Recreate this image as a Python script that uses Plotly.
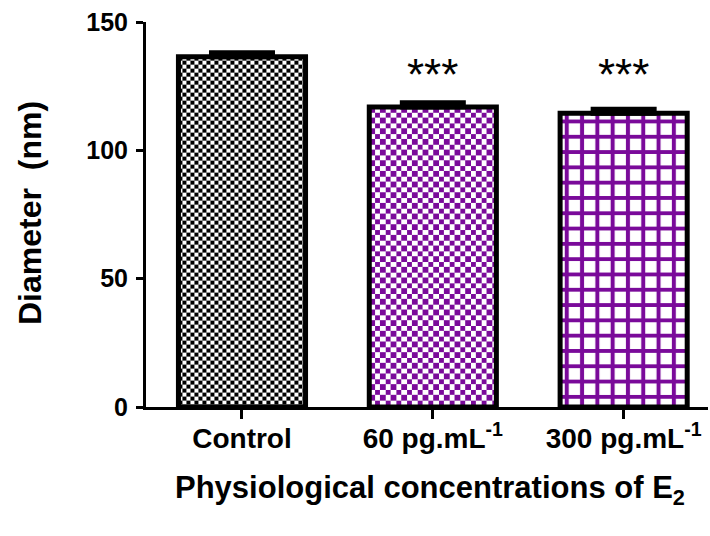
import base64
import plotly.graph_objects as go

# ---- data ----
categories = ["Control", "60 pg.mL<sup>-1</sup>", "300 pg.mL<sup>-1</sup>"]
means = [136.5, 116.9, 114.4]
sems = [1.5, 1.6, 1.6]
significance = ["", "***", "***"]
y_ticks = [0, 50, 100, 150]
sig_y = 129.5

# ---- styling ----
PURPLE = "#7a0a9a"
FONT = "Arial, Liberation Sans, sans-serif"
BAR_W = 0.666
W, H = 710, 536
L, R, T, B = 146, 2, 22, 129
x_range = [-0.503, 2.442]
y_range = [0, 150]
px_x = (W - L - R) / (x_range[1] - x_range[0])
px_y = (H - T - B) / (y_range[1] - y_range[0])


def checker_uri(cell, color, wpx, hpx):
    c2 = 2 * cell
    svg = (
        f"<svg xmlns='http://www.w3.org/2000/svg' width='{wpx:.1f}' height='{hpx:.1f}' "
        f"viewBox='0 0 {wpx:.1f} {hpx:.1f}' shape-rendering='crispEdges'>"
        f"<defs><pattern id='p' width='{c2}' height='{c2}' patternUnits='userSpaceOnUse'>"
        f"<rect width='{c2}' height='{c2}' fill='white'/>"
        f"<rect width='{cell}' height='{cell}' fill='{color}'/>"
        f"<rect x='{cell}' y='{cell}' width='{cell}' height='{cell}' fill='{color}'/>"
        f"</pattern></defs><rect width='100%' height='100%' fill='url(#p)'/></svg>"
    )
    return "data:image/svg+xml;base64," + base64.b64encode(svg.encode()).decode()


# per-bar fill style: checkerboard texture (cell px, colour) or plotly "+" grid
styles = [
    dict(texture=(4.0, "black")),
    dict(texture=(5.33, PURPLE)),
    dict(grid=True),
]

xs = list(range(len(categories)))

fig = go.Figure()
images = []
for i, st in enumerate(styles):
    if st.get("grid"):
        marker = dict(color="white", line=dict(color="black", width=5),
                      pattern=dict(shape="+", fgcolor=PURPLE, bgcolor="white",
                                   size=15.3, solidity=0.454, fillmode="replace"))
    else:
        marker = dict(color="rgba(0,0,0,0)", line=dict(color="black", width=5))
        cell, col = st["texture"]
        uri = checker_uri(cell, col, BAR_W * px_x, means[i] * px_y)
        images.append(dict(source=uri, xref="x", yref="y", x=xs[i] - BAR_W / 2,
                           y=means[i], sizex=BAR_W, sizey=means[i],
                           xanchor="left", yanchor="top", sizing="stretch",
                           layer="below"))
    fig.add_trace(go.Bar(
        x=[xs[i]], y=[means[i]], width=BAR_W, marker=marker,
        error_y=dict(type="data", array=[sems[i]], arrayminus=[0],
                     symmetric=False, color="black", thickness=5, width=33),
        showlegend=False, hoverinfo="skip",
    ))

annotations = []
for i, s in enumerate(significance):
    if s:
        annotations.append(dict(x=xs[i], y=sig_y, xref="x", yref="y", text=s,
                                showarrow=False, xanchor="center", yanchor="middle",
                                font=dict(family=FONT, size=44, color="black")))

annotations.append(dict(x=(30 - L) / (W - L - R), y=(407 - 213) / (H - T - B),
                        xref="paper", yref="paper", xanchor="center", yanchor="middle",
                        text="Diameter\u00a0\u00a0(nm)", textangle=-90, showarrow=False,
                        font=dict(family=FONT, size=32, color="black", weight="bold")))
annotations.append(dict(x=0.505, y=(407 - 490) / (H - T - B), xref="paper", yref="paper",
                        xanchor="center", yanchor="middle",
                        text="Physiological concentrations of E<sub>2</sub>",
                        showarrow=False,
                        font=dict(family=FONT, size=31, color="black", weight="bold")))

fig.update_layout(
    width=W, height=H,
    margin=dict(l=L, r=R, t=T, b=B, pad=0, autoexpand=False),
    paper_bgcolor="white", plot_bgcolor="white",
    barmode="overlay",
    images=images, annotations=annotations,
    xaxis=dict(range=x_range, tickmode="array", tickvals=xs, ticktext=categories,
               ticks="outside", ticklen=9, tickwidth=3, tickcolor="black",
               showline=True, linewidth=3, linecolor="black",
               showgrid=False, zeroline=False, automargin=False,
               ticklabelstandoff=-5,
               tickfont=dict(family=FONT, size=28, color="black", weight="bold")),
    yaxis=dict(range=y_range, tickmode="array", tickvals=y_ticks,
               ticks="outside", ticklen=7, tickwidth=3, tickcolor="black",
               showline=True, linewidth=3, linecolor="black",
               showgrid=False, zeroline=False, automargin=False,
               ticklabelstandoff=3,
               tickfont=dict(family=FONT, size=25, color="black", weight="bold")),
)

fig.write_html("out.html",
               config={"displayModeBar": False},
               post_script="document.body.style.margin='0';"
                           "document.body.style.overflow='hidden';")
